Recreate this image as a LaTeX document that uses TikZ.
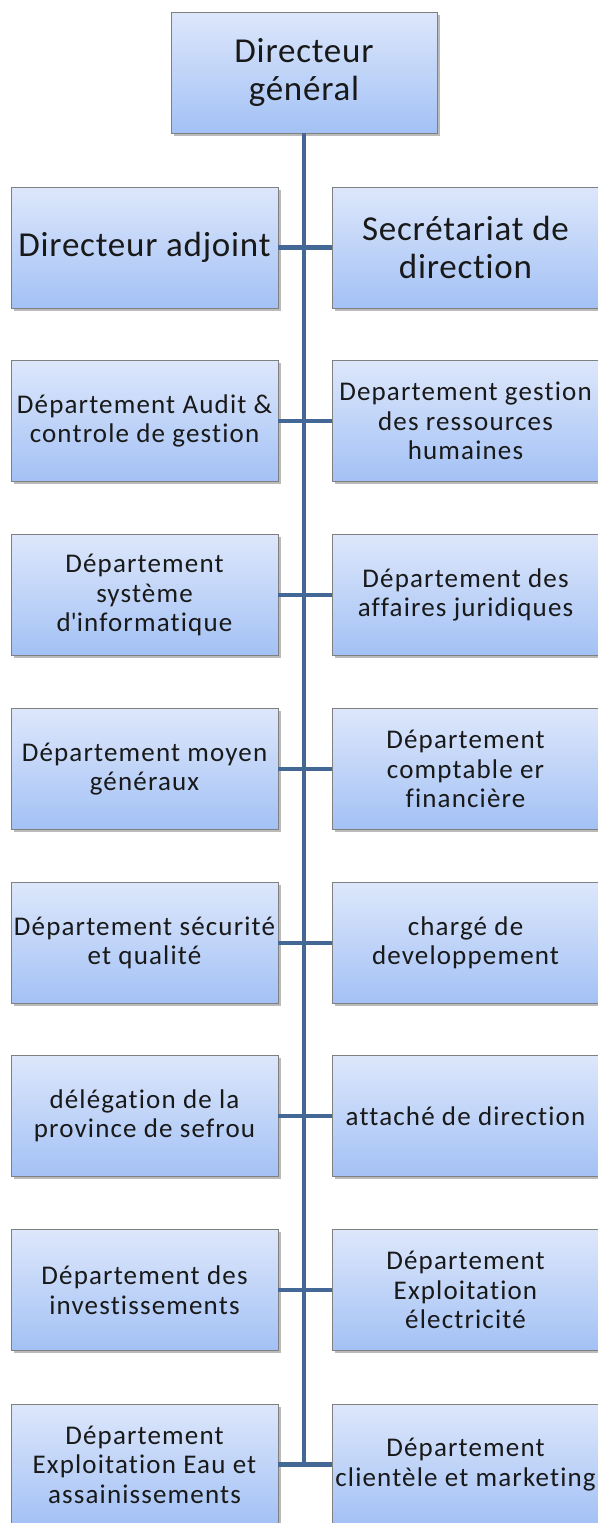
\documentclass[tikz,border=0pt]{standalone}
\usepackage{fontspec}
\setmainfont[Ligatures={TeX,NoCommon}]{Carlito}
\usetikzlibrary{shadows}
\definecolor{boxtop}{RGB}{221,231,251}
\definecolor{boxbot}{RGB}{163,193,245}
\definecolor{boxedge}{RGB}{128,128,128}
\definecolor{conncol}{RGB}{68,104,150}
\tikzset{
  orgbox/.style={rectangle, draw=boxedge, line width=0.8pt, top color=boxtop, bottom color=boxbot,
    minimum width=267pt, minimum height=121pt, inner sep=0pt, align=center, text=black!90,
    drop shadow={shadow xshift=2.5pt, shadow yshift=-2.5pt, opacity=0.45, fill=black!60}},
  bigtxt/.style={font=\fontsize{35}{37.5}\selectfont\addfontfeature{LetterSpace=2.2}},
  smalltxt/.style={font=\fontsize{27}{29.5}\selectfont\addfontfeature{LetterSpace=4.3}},
  conn/.style={draw=conncol, line width=4.5pt}
}
\begin{document}
\begin{tikzpicture}[x=1pt,y=-1pt]
\useasboundingbox (0,0) rectangle (597,1523);
\node[orgbox,bigtxt,minimum width=266pt] (top) at (304,72.5) {Directeur\\général};
% row 1
\node[orgbox,bigtxt] (l1) at (144.5,247.5) {Directeur adjoint};
\node[orgbox,bigtxt] (r1) at (465.5,247.5) {Secrétariat de\\direction};
% row 2
\node[orgbox,smalltxt] (l2) at (144.5,421) {Département Audit \&\\controle de gestion};
\node[orgbox,smalltxt] (r2) at (465.5,421) {Departement gestion\\des ressources\\humaines};
% row 3
\node[orgbox,smalltxt] (l3) at (144.5,595) {Département\\système\\d\textquotesingle informatique};
\node[orgbox,smalltxt] (r3) at (465.5,595) {Département des\\affaires juridiques};
% row 4
\node[orgbox,smalltxt] (l4) at (144.5,769) {Département moyen\\généraux};
\node[orgbox,smalltxt] (r4) at (465.5,769) {Département\\comptable er\\financière};
% row 5
\node[orgbox,smalltxt] (l5) at (144.5,943) {Département sécurité\\et qualité};
\node[orgbox,smalltxt] (r5) at (465.5,943) {chargé de\\developpement};
% row 6
\node[orgbox,smalltxt] (l6) at (144.5,1116) {délégation de la\\province de sefrou};
\node[orgbox,smalltxt] (r6) at (465.5,1116) {attaché de direction};
% row 7
\node[orgbox,smalltxt] (l7) at (144.5,1290) {Département des\\investissements};
\node[orgbox,smalltxt] (r7) at (465.5,1290) {Département\\Exploitation\\électricité};
% row 8
\node[orgbox,smalltxt] (l8) at (144.5,1464.5) {Département\\Exploitation Eau et\\assainissements};
\node[orgbox,smalltxt] (r8) at (465.5,1464.5) {Département\\clientèle et marketing};
% connectors
\coordinate (j8) at (top.south |- l8.east);
\draw[conn] (top.south) -- (j8);
\foreach \i in {1,...,8} {
  \draw[conn] (l\i.east) -- (r\i.west);
}
\end{tikzpicture}
\end{document}
